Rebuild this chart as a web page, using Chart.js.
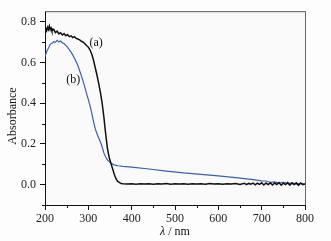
<!DOCTYPE html>
<html>
<head>
<meta charset="utf-8">
<script src="https://cdn.jsdelivr.net/npm/chart.js@4/dist/chart.umd.min.js"></script>
<style>
  html, body { margin: 0; padding: 0; background: #fdfdfd; }
  #wrap { position: relative; width: 331px; height: 241px; }
</style>
</head>
<body>
<div id="wrap"><canvas id="c" width="331" height="241"></canvas></div>
<script>
// wavelength (nm) and absorbance
const waveA = [200, 202, 204, 206, 208, 210, 212, 214, 216, 220, 224, 228, 232, 236, 240, 244, 248, 252, 256, 260, 264, 268, 272, 276,
  280, 284, 288, 292, 296, 300, 304, 308, 312, 316, 320, 324, 328, 332, 336, 340, 344, 348, 352, 356,
  360, 364, 368, 372, 376, 380, 390, 400, 410, 420, 430, 440, 450, 460, 470, 480, 490, 500, 510, 520,
  530, 540, 550, 560, 570, 580, 590, 600, 610, 620, 630, 640, 650, 660, 665, 670, 675, 680, 685, 690,
  695, 700, 705, 710, 715, 720, 725, 730, 735, 740, 745, 750, 755, 760, 765, 770, 775, 780, 785, 790, 795, 800];
const absA = [0.752, 0.768, 0.759, 0.774, 0.763, 0.780, 0.762, 0.771, 0.756, 0.764, 0.748, 0.755, 0.741, 0.747, 0.736, 0.743, 0.732, 0.738, 0.728, 0.732, 0.723, 0.728, 0.719, 0.716,
  0.712, 0.705, 0.701, 0.693, 0.684, 0.676, 0.662, 0.641, 0.612, 0.575, 0.538, 0.497, 0.452, 0.398, 0.330, 0.250, 0.180, 0.135, 0.105, 0.078,
  0.050, 0.028, 0.016, 0.010, 0.006, 0.004, 0.003, 0.005, 0.002, 0.004, 0.003, 0.005, 0.002, 0.004, 0.003, 0.006, 0.002, 0.004, 0.003, 0.005,
  0.002, 0.005, 0.003, 0.004, 0.002, 0.006, 0.003, 0.004, 0.002, 0.005, 0.003, 0.006, 0.001, 0.007, 0.000, 0.006, 0.002, 0.008, -0.001, 0.007,
  0.001, 0.009, -0.002, 0.008, 0.000, 0.009, -0.002, 0.008, 0.001, 0.010, -0.003, 0.007, 0.000, 0.010, -0.002, 0.008, 0.001, 0.009, -0.003, 0.008, 0.000, 0.004];

const waveB = [200, 204, 208, 212, 216, 220, 224, 228, 232, 236, 240, 244, 248, 252, 256, 260, 264, 268, 272, 276,
  280, 284, 288, 292, 296, 300, 304, 308, 312, 316, 320, 324, 328, 332, 336, 340, 344, 348, 352, 356,
  360, 364, 368, 380, 400, 440, 480, 520, 560, 600, 640, 680, 700, 710, 720, 730, 740, 750, 760, 770, 780, 790, 800];
const absB = [0.630, 0.655, 0.672, 0.690, 0.695, 0.703, 0.700, 0.710, 0.702, 0.706, 0.697, 0.694, 0.685, 0.676, 0.664, 0.652, 0.638, 0.622, 0.604, 0.585,
  0.560, 0.535, 0.508, 0.478, 0.448, 0.418, 0.387, 0.350, 0.310, 0.275, 0.250, 0.230, 0.210, 0.185, 0.155, 0.136, 0.122, 0.113, 0.106, 0.101,
  0.097, 0.095, 0.093, 0.090, 0.086, 0.077, 0.067, 0.058, 0.051, 0.043, 0.035, 0.025, 0.019, 0.018, 0.012, 0.014, 0.008, 0.011, 0.005, 0.009, 0.003, 0.007, 0.003];

const curveLabels = [
  { text: '(a)', x: 318, y: 0.698 },
  { text: '(b)', x: 265, y: 0.514 },
];

const SERIF = '"Liberation Serif", "DejaVu Serif", serif';
const toPts = (xs, ys) => xs.map((x, i) => ({ x, y: ys[i] }));
const isMajor = (v, step) => Math.abs(Math.round(v / step) * step - v) < 1e-6;

/** frame (top/right), minor ticks, curve labels and axis titles */
const decorPlugin = {
  id: 'decor',
  afterDraw: (chart) => {
    const { ctx, chartArea: a, scales } = chart;
    ctx.save();
    // top & right frame
    ctx.lineWidth = 1;
    ctx.strokeStyle = '#555';
    ctx.beginPath(); ctx.moveTo(a.left, a.top + 0.5); ctx.lineTo(a.right, a.top + 0.5); ctx.stroke();
    ctx.strokeStyle = '#4a67a8';
    ctx.beginPath(); ctx.moveTo(a.right + 0.5, a.top); ctx.lineTo(a.right + 0.5, a.bottom); ctx.stroke();
    // minor ticks
    ctx.strokeStyle = '#111';
    scales.y.ticks.forEach((t) => {
      if (isMajor(t.value, 0.2)) return;
      const py = Math.round(scales.y.getPixelForValue(t.value)) + 0.5;
      ctx.beginPath(); ctx.moveTo(a.left - 3, py); ctx.lineTo(a.left, py); ctx.stroke();
    });
    scales.x.ticks.forEach((t) => {
      if (isMajor(t.value, 100)) return;
      const px = Math.round(scales.x.getPixelForValue(t.value)) + 0.5;
      ctx.beginPath(); ctx.moveTo(px, a.bottom); ctx.lineTo(px, a.bottom + 3); ctx.stroke();
    });
    // curve labels
    ctx.fillStyle = '#111';
    ctx.font = '12px ' + SERIF;
    ctx.textAlign = 'center';
    ctx.textBaseline = 'middle';
    curveLabels.forEach((l) => {
      ctx.fillText(l.text, scales.x.getPixelForValue(l.x), scales.y.getPixelForValue(l.y));
    });
    // y title
    ctx.save();
    ctx.translate(13, 116);
    ctx.rotate(-Math.PI / 2);
    ctx.fillText('Absorbance', 0, 0);
    ctx.restore();
    // x title: italic lambda + " / nm"
    const cx = (a.left + a.right) / 2;
    ctx.font = 'italic 12px ' + SERIF;
    const w1 = ctx.measureText('λ').width;
    ctx.font = '12px ' + SERIF;
    const w2 = ctx.measureText(' / nm').width;
    const x0 = cx - (w1 + w2) / 2;
    ctx.textAlign = 'left';
    ctx.font = 'italic 12px ' + SERIF;
    ctx.fillText('λ', x0, 232);
    ctx.font = '12px ' + SERIF;
    ctx.fillText(' / nm', x0 + w1, 232);
    ctx.restore();
  },
};

const bgPlugin = {
  id: 'plotBg',
  beforeDraw: (chart) => {
    const { ctx, chartArea: a } = chart;
    ctx.save();
    ctx.fillStyle = '#fafafa';
    ctx.fillRect(a.left, a.top, a.right - a.left, a.bottom - a.top);
    ctx.restore();
  },
};

new Chart(document.getElementById('c').getContext('2d'), {
  type: 'line',
  data: {
    datasets: [
      { label: '(a)', data: toPts(waveA, absA), borderColor: '#111111', borderWidth: 1.5, pointRadius: 0, tension: 0 },
      { label: '(b)', data: toPts(waveB, absB), borderColor: '#3d5fae', borderWidth: 1.2, pointRadius: 0, tension: 0 },
    ],
  },
  plugins: [bgPlugin, decorPlugin],
  options: {
    responsive: false,
    animation: false,
    layout: { padding: { left: 0, right: 26, top: 11, bottom: 0 } },
    plugins: { legend: { display: false }, tooltip: { enabled: false } },
    scales: {
      x: {
        type: 'linear', min: 200, max: 800,
        afterFit: (s) => { s.height = 36; },
        border: { color: '#111', width: 1 },
        grid: {
          drawOnChartArea: false, drawTicks: true, tickLength: 5,
          tickColor: (c) => (c.tick && isMajor(c.tick.value, 100) ? '#111' : 'rgba(0,0,0,0)'),
        },
        ticks: {
          stepSize: 50, includeBounds: false, maxRotation: 0, autoSkip: false, padding: 2,
          color: '#222', font: { family: SERIF, size: 12 },
          callback: (v) => (isMajor(v, 100) ? String(Math.round(v)) : ''),
        },
      },
      y: {
        type: 'linear', min: -0.1, max: 0.853,
        afterFit: (s) => { s.width = 45; },
        border: { color: '#111', width: 1 },
        grid: {
          drawOnChartArea: false, drawTicks: true, tickLength: 5,
          tickColor: (c) => (c.tick && isMajor(c.tick.value, 0.2) ? '#111' : 'rgba(0,0,0,0)'),
        },
        ticks: {
          stepSize: 0.1, includeBounds: false, autoSkip: false, padding: 4,
          color: '#222', font: { family: SERIF, size: 12 },
          callback: (v) => (isMajor(v, 0.2) ? v.toFixed(1) : ''),
        },
      },
    },
  },
});
</script>
</body>
</html>
